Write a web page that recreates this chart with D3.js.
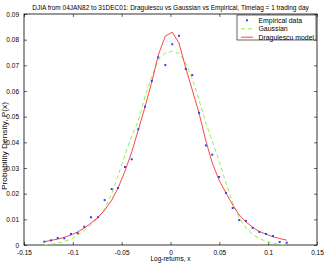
<!DOCTYPE html>
<html>
<head>
<meta charset="utf-8">
<script src="https://cdn.jsdelivr.net/npm/d3@7"></script>
<style>
   body { margin: 0; background: #fff; }
   svg text { font-family: "Liberation Sans", Arial, sans-serif; fill: #000; }
   .tick-label { font-size: 6.5px; }
   .title { font-size: 6.5px; }
   .axis-label { font-size: 6.5px; }
   .ylabel { font-size: 6.8px; }
   .legend-text { font-size: 6.9px; }
</style>
</head>
<body>
<div id="chart"></div>
<script>
const width = 327;
const height = 263;

const margin = { top: 14, right: 10, bottom: 18, left: 24 };

const title = "DJIA from 04JAN82 to 31DEC01: Dragulescu vs Gaussian vs Empirical, Timelag = 1 trading day";

// bin centres (log-returns)
const binX = [-0.1292, -0.1223, -0.1155, -0.1087, -0.1019, -0.0950, -0.0883, -0.0814, -0.0742, -0.0674,
   -0.0602, -0.0538, -0.0466, -0.0397, -0.0330, -0.0261, -0.0192, -0.0125, -0.0053, 0.0018,
   0.0087, 0.0156, 0.0223, 0.0292, 0.0363, 0.0428, 0.0497, 0.0568, 0.0637, 0.0704,
   0.0773, 0.0842, 0.0909, 0.0978, 0.1049, 0.1118, 0.1190];

const empirical = [0.0013, 0.0018, 0.0027, 0.0026, 0.0043, 0.0046, 0.0071, 0.0108, 0.0108, 0.0175,
   0.0218, 0.0222, 0.0304, 0.0334, 0.0451, 0.0539, 0.0639, 0.0731, 0.0701, 0.0782,
   0.0815, 0.0686, 0.0662, 0.0515, 0.0388, 0.0352, 0.0265, 0.0203, 0.0144, 0.0097,
   0.0094, 0.0067, 0.0051, 0.0043, 0.0035, 0.0012, 0.0009];

const gaussian = [0.0001, 0.0003, 0.0007, 0.0014, 0.0023, 0.0039, 0.0056, 0.0078, 0.0107, 0.0142,
   0.0199, 0.0269, 0.0351, 0.0425, 0.0483, 0.0578, 0.0656, 0.0721, 0.0748, 0.0754,
   0.0747, 0.0709, 0.0647, 0.0565, 0.0475, 0.0405, 0.0327, 0.0242, 0.0164, 0.0105,
   0.0066, 0.0041, 0.0026, 0.0014, 0.0007, 0.0002, 0.0000];

const dragulescu = [0.0013, 0.0018, 0.0023, 0.0030, 0.0039, 0.0051, 0.0066, 0.0085, 0.0108, 0.0136,
   0.0175, 0.0221, 0.0288, 0.0362, 0.0448, 0.0538, 0.0635, 0.0740, 0.0814, 0.0829,
   0.0787, 0.0690, 0.0604, 0.0514, 0.0405, 0.0319, 0.0253, 0.0203, 0.0156, 0.0117,
   0.0090, 0.0069, 0.0053, 0.0042, 0.0032, 0.0025, 0.0019];

const xTicks = [-0.15, -0.1, -0.05, 0, 0.05, 0.1, 0.15];
const yTicks = [0, 0.01, 0.02, 0.03, 0.04, 0.05, 0.06, 0.07, 0.08, 0.09];

const legendNames = ["Empirical data", "Gaussian", "Dragulescu model"];

const svg = d3.select("#chart").append("svg")
   .attr("width", width)
   .attr("height", height);

const x = d3.scaleLinear()
   .domain([-0.15, 0.15])
   .range([margin.left, width - margin.right]);

const y = d3.scaleLinear()
   .domain([0, 0.09])
   .range([height - margin.bottom, margin.top]);

const fmt = d => d === 0 ? "0" : String(d);

// axes box
svg.append("rect")
   .attr("x", x(-0.15))
   .attr("y", y(0.09))
   .attr("width", x(0.15) - x(-0.15))
   .attr("height", y(0) - y(0.09))
   .attr("fill", "none")
   .attr("stroke", "#000")
   .attr("stroke-width", 0.8);

// inward ticks on all four sides
const tickLen = 3;
svg.append("g")
   .attr("transform", `translate(0, ${y(0)})`)
   .call(d3.axisBottom(x).tickValues(xTicks).tickSize(-tickLen).tickPadding(tickLen + 2).tickFormat(fmt))
   .call(g => g.select(".domain").remove());

svg.append("g")
   .attr("transform", `translate(0, ${y(0.09)})`)
   .call(d3.axisTop(x).tickValues(xTicks).tickSize(-tickLen).tickFormat(""))
   .call(g => g.select(".domain").remove());

svg.append("g")
   .attr("transform", `translate(${x(-0.15)}, 0)`)
   .call(d3.axisLeft(y).tickValues(yTicks).tickSize(-tickLen).tickPadding(tickLen + 2).tickFormat(fmt))
   .call(g => g.select(".domain").remove());

svg.append("g")
   .attr("transform", `translate(${x(0.15)}, 0)`)
   .call(d3.axisRight(y).tickValues(yTicks).tickSize(-tickLen).tickFormat(""))
   .call(g => g.select(".domain").remove());

svg.selectAll(".tick line").attr("stroke-width", 0.6);
svg.selectAll(".tick text").attr("class", "tick-label");

// curves
const line = d3.line()
   .x(d => x(d[0]))
   .y(d => y(d[1]));

svg.append("path")
   .datum(binX.map((v, i) => [v, gaussian[i]]))
   .attr("d", line)
   .attr("fill", "none")
   .attr("stroke", "#8cf050")
   .attr("stroke-width", 1)
   .attr("stroke-dasharray", "4,3");

svg.append("path")
   .datum(binX.map((v, i) => [v, dragulescu[i]]))
   .attr("d", line)
   .attr("fill", "none")
   .attr("stroke", "#ff3030")
   .attr("stroke-width", 0.9);

svg.selectAll("rect.dot")
   .data(binX.map((v, i) => [v, empirical[i]]))
   .enter()
   .append("rect")
   .attr("class", "dot")
   .attr("x", d => x(d[0]) - 1)
   .attr("y", d => y(d[1]) - 1)
   .attr("width", 2)
   .attr("height", 2)
   .attr("fill", "#3040ff");

// title and labels
svg.append("text")
   .attr("class", "title")
   .attr("x", (x(-0.15) + x(0.15)) / 2)
   .attr("y", 10)
   .style("text-anchor", "middle")
   .text(title);

svg.append("text")
   .attr("class", "axis-label")
   .attr("x", (x(-0.15) + x(0.15)) / 2)
   .attr("y", height - 2)
   .style("text-anchor", "middle")
   .text("Log-returns, x");

svg.append("text")
   .attr("class", "ylabel")
   .attr("x", -146)
   .attr("y", 7)
   .attr("transform", "rotate(-90)")
   .attr("textLength", 88)
   .attr("lengthAdjust", "spacingAndGlyphs")
   .style("text-anchor", "middle")
   .text("Probability Density, P(x)");

// legend
const lx = 237, ly = 15, lw = 79, lh = 25;
svg.append("rect")
   .attr("x", lx)
   .attr("y", ly)
   .attr("width", lw)
   .attr("height", lh)
   .attr("fill", "#fff")
   .attr("stroke", "#000")
   .attr("stroke-width", 0.6);

const legendRows = [20.3, 28.8, 37.2];
legendNames.forEach((name, i) => {
   const ry = legendRows[i];
   if (i === 0) {
      svg.append("rect")
         .attr("x", lx + 9)
         .attr("y", ry - 1)
         .attr("width", 2)
         .attr("height", 2)
         .attr("fill", "#3040ff");
   } else {
      svg.append("line")
         .attr("x1", lx + 4)
         .attr("x2", lx + 16)
         .attr("y1", ry)
         .attr("y2", ry)
         .attr("stroke", i === 1 ? "#8cf050" : "#ff3030")
         .attr("stroke-width", i === 1 ? 1 : 0.9)
         .attr("stroke-dasharray", i === 1 ? "4,3" : null);
   }
   svg.append("text")
      .attr("class", "legend-text")
      .attr("x", lx + 21.5)
      .attr("y", ry + 2.4)
      .text(name);
});
</script>
</body>
</html>
